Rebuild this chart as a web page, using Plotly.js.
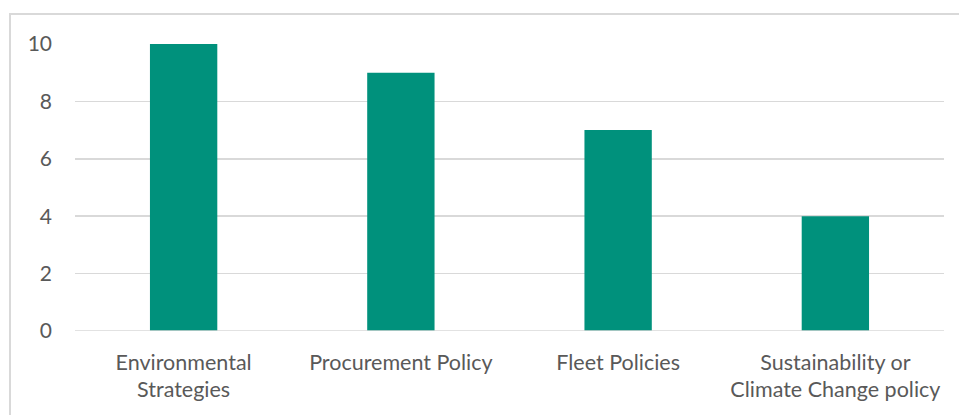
<!DOCTYPE html>
<html><head><meta charset="utf-8">
<script src="https://cdn.plot.ly/plotly-3.0.1.min.js"></script>
<style>html,body{margin:0;padding:0;background:#fff}#chart{width:959px;height:415px}</style>
</head><body><div id="chart"></div>
<script>
const categories = ["Environmental<br>Strategies", "Procurement Policy", "Fleet Policies", "Sustainability or<br>Climate Change policy"];
const values = [10, 9, 7, 4];
const yTicks = [0, 2, 4, 6, 8, 10];

const trace = {
  type: 'bar', x: categories, y: values,
  marker: {color: '#00917c'}, hoverinfo: 'x+y'
};
const layout = {
  width: 959, height: 415,
  margin: {l: 75, r: 15, t: 44, b: 84},
  paper_bgcolor: '#fff', plot_bgcolor: '#fff',
  bargap: 0.69, showlegend: false,
  font: {family: 'Lato, "Open Sans", sans-serif', color: '#595959', size: 21},
  xaxis: {type: 'category', showgrid: false, zeroline: false, showline: false,
          ticks: '', ticklabelstandoff: 16, tickfont: {size: 21.5, color: '#595959'}},
  yaxis: {range: [0, 10], tickvals: yTicks, showgrid: true, gridcolor: '#d9d9d9', gridwidth: 1.5,
          zeroline: false, showline: false, ticks: '', ticklabelstandoff: 22,
          tickfont: {size: 21, color: '#595959'}},
  shapes: [
    {type: 'line', xref: 'paper', yref: 'y', x0: 0, x1: 1, y0: 0, y1: 0, line: {color: '#d9d9d9', width: 1.5}},
    {type: 'rect', xref: 'paper', yref: 'paper', x0: -0.0748, x1: 1.2, y0: -0.6, y1: 1.1045,
     line: {color: '#d9d9d9', width: 2}, fillcolor: 'rgba(0,0,0,0)', layer: 'below'}
  ]
};
Plotly.newPlot('chart', [trace], layout, {displayModeBar: false, staticPlot: true});
</script></body></html>
